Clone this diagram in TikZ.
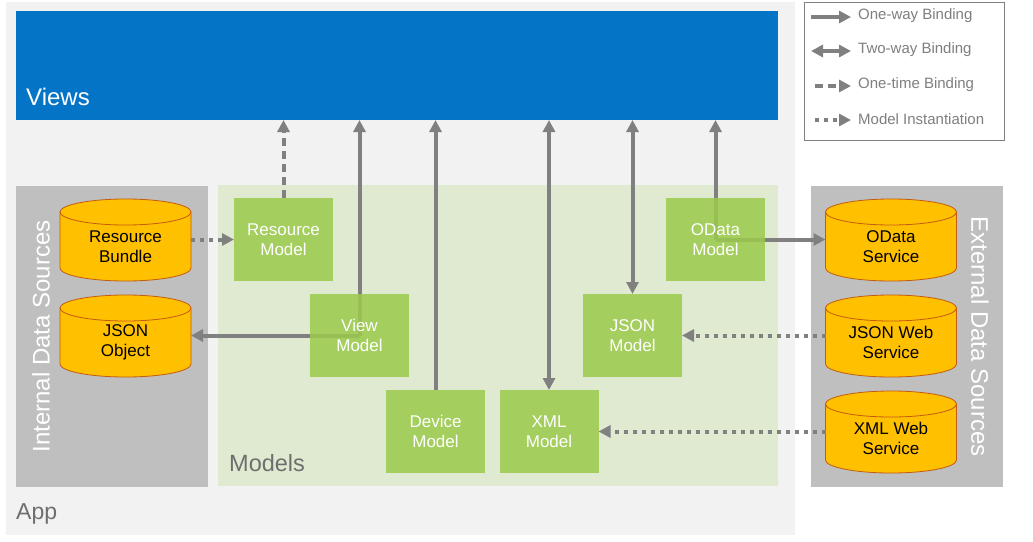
\documentclass[tikz,border=0pt]{standalone}
\usepackage{fontspec}
\setmainfont{Liberation Sans}
\usetikzlibrary{arrows.meta,calc}
\definecolor{appbg}{HTML}{F2F2F2}
\definecolor{viewblue}{HTML}{0474C6}
\definecolor{srcgray}{HTML}{BFBFBF}
\definecolor{modelbg}{HTML}{E0EAD1}
\definecolor{modelgreen}{HTML}{9BCA4C}
\definecolor{cylfill}{HTML}{FFC000}
\definecolor{cyledge}{HTML}{C55A11}
\definecolor{arrowgray}{HTML}{808080}
\definecolor{labelgray}{HTML}{6E6E6E}
\definecolor{legendgray}{HTML}{7F7F7F}
\pgfdeclarelayer{back}
\pgfdeclarelayer{mid}
\pgfsetlayers{back,mid,main}
\tikzset{
  panel/.style={draw=none, inner sep=0pt, outer sep=0pt},
  modelbox/.style={fill=modelgreen, fill opacity=0.86, text opacity=1, text=white,
    minimum width=99pt, minimum height=83pt, inner sep=0pt, outer sep=0pt, align=center,
    font=\fontsize{17}{20.5}\selectfont},
  cyl/.style={minimum width=131pt, minimum height=69pt, inner sep=0pt, outer sep=0pt,
    align=center, text=black, font=\fontsize{17}{20.5}\selectfont},
  cylbody/.style={fill=cylfill, draw=cyledge, line width=0.8pt},
  conn/.style={draw=arrowgray, line width=4pt},
  oneway/.style={conn, -{Triangle[length=12pt,width=12pt]}},
  twoway/.style={conn, {Triangle[length=12pt,width=12pt]}-{Triangle[length=12pt,width=12pt]}},
  onetime/.style={oneway, dash pattern=on 8pt off 5pt},
  instantiation/.style={oneway, dash pattern=on 4pt off 5pt},
  legendtext/.style={anchor=west, inner sep=0pt, text=legendgray, font=\fontsize{15}{18}\selectfont},
  srclabel/.style={text=white, font=\fontsize{24}{28}\selectfont, inner sep=0pt},
}
\newcommand\drawcylinder[1]{%
  \begin{pgfonlayer}{mid}
  \path[cylbody] (#1.north west) -- ($(#1.south west)+(0,13pt)$)
    arc[start angle=180, end angle=360, x radius=65.5pt, y radius=13pt]
    -- (#1.north east)
    arc[start angle=0, end angle=180, x radius=65.5pt, y radius=13pt] -- cycle;
  \draw[cyledge, line width=0.8pt] (#1.north west)
    arc[start angle=180, end angle=360, x radius=65.5pt, y radius=13pt];
  \end{pgfonlayer}}
\begin{document}
\begin{tikzpicture}[x=1pt, y=1pt]
\useasboundingbox (0,0) rectangle (1033,-541);
\begin{pgfonlayer}{back}
\fill[white] (0,0) rectangle (1033,-541);
\node[panel, fill=appbg, minimum width=789pt, minimum height=533pt] (app) at (400.5,-268.5) {};
\node[panel, fill=viewblue, minimum width=762pt, minimum height=109pt] (views) at (397,-65.5) {};
\node[panel, fill=srcgray, minimum width=192pt, minimum height=301pt] (intsrc) at (112,-336.5) {};
\node[panel, fill=modelbg, minimum width=560pt, minimum height=301pt] (models) at (498,-335.5) {};
\node[panel, fill=srcgray, minimum width=192pt, minimum height=301pt] (extsrc) at (907,-336.5) {};
\end{pgfonlayer}

\node[anchor=base west, inner sep=0pt, text=white, font=\fontsize{24}{28}\selectfont] (viewslbl) at (26,-105) {Views};
\node[anchor=base west, inner sep=0pt, text=labelgray, font=\fontsize{23.5}{28}\selectfont] (modelslbl) at (229,-471) {Models};
\node[anchor=base west, inner sep=0pt, text=labelgray, font=\fontsize{23}{28}\selectfont] (applbl) at (16,-519) {App};
\node[srclabel, rotate=90] (intlbl) at (41,-336.5) {Internal Data Sources};
\node[srclabel, rotate=-90] (extlbl) at (980,-336.5) {External Data Sources};

% data sources
\node[cyl] (rb) at (125.5,-246.5) {Resource\\Bundle};
\node[cyl] (jo) at (125.5,-342.5) {JSON\\Object};
\node[cyl] (os) at (891,-246.5) {OData\\Service};
\node[cyl] (jws) at (891,-342.5) {JSON Web\\Service};
\node[cyl] (xws) at (891,-438.5) {XML Web\\Service};
\drawcylinder{rb}
\drawcylinder{jo}
\drawcylinder{os}
\drawcylinder{jws}
\drawcylinder{xws}

% models
\node[modelbox] (rm) at (283.5,-239.5) {Resource\\Model};
\node[modelbox] (vm) at (359.5,-335.5) {View\\Model};
\node[modelbox] (dm) at (435.5,-431.5) {Device\\Model};
\node[modelbox] (xm) at (549,-431.5) {XML\\Model};
\node[modelbox] (jm) at (632.5,-335.5) {JSON\\Model};
\node[modelbox] (om) at (715.5,-239.5) {OData\\Model};

% connectors
\begin{pgfonlayer}{mid}
\draw[onetime] (rm.north) -- (rm.north |- views.south);
\draw[oneway] (vm.center) -- (vm.center |- views.south);
\draw[oneway] (vm.center) -- (vm.center -| jo.east);
\draw[oneway] (dm.north) -- (dm.north |- views.south);
\draw[twoway] (xm.north) -- (xm.north |- views.south);
\draw[twoway] (jm.north) -- (jm.north |- views.south);
\draw[oneway] (om.center) -- (om.center |- views.south);
\draw[oneway] (om.center) -- (om.center -| os.west);
\draw[instantiation] (rb.east |- rm.center) -- (rm.west);
\draw[instantiation] (jws.west |- jm.center) -- (jm.east);
\draw[instantiation] (xws.west |- xm.center) -- (xm.east);
\end{pgfonlayer}

% legend
\node[draw=arrowgray, line width=1pt, minimum width=200pt, minimum height=138pt, inner sep=0pt] (legend) at (904,-71) {};
\coordinate (l1a) at (811,-17);  \coordinate (l1b) at (851,-17);
\coordinate (l2a) at (811,-51);  \coordinate (l2b) at (851,-51);
\coordinate (l3a) at (815,-86);  \coordinate (l3b) at (851,-86);
\coordinate (l4a) at (815,-120); \coordinate (l4b) at (851,-120);
\draw[oneway] (l1a) -- (l1b);
\draw[twoway] (l2a) -- (l2b);
\draw[onetime] (l3a) -- (l3b);
\draw[instantiation] (l4a) -- (l4b);
\node[legendtext] (t1) at (858,-16) {One-way Binding};
\node[legendtext] (t2) at (858,-50) {Two-way Binding};
\node[legendtext] (t3) at (858,-85) {One-time Binding};
\node[legendtext] (t4) at (858,-119) {Model Instantiation};
\end{tikzpicture}
\end{document}
